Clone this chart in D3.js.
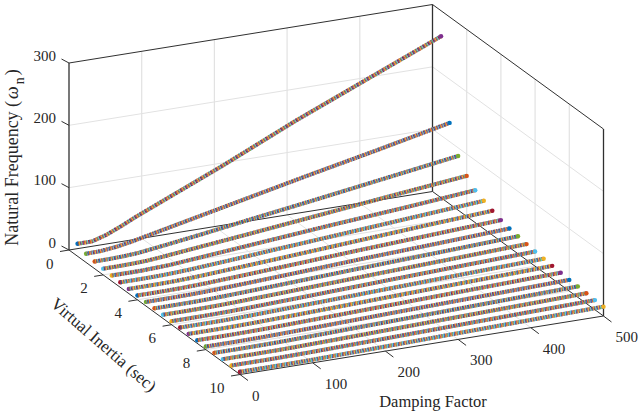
<!DOCTYPE html>
<html>
<head>
<meta charset="utf-8">
<script src="https://cdn.jsdelivr.net/npm/d3@7"></script>
<style>
body { margin: 0; background: #fff; }
text { font-family: "Liberation Serif", serif; fill: #262626; }
</style>
</head>
<body>
<script>
var w = 641, h = 415;

// values
var damping = [0, 20, 40, 60, 80, 100, 150, 200, 300, 400, 500];
var inertia = [0.5, 1, 1.5, 2, 2.5, 3, 3.5, 4, 4.5, 5, 5.5, 6, 6.5, 7, 7.5, 8, 8.5, 9, 9.5, 10];
var freq = [
  [20, 20, 27, 37, 48, 58, 83, 108, 161, 210, 259],
  [14, 14.5, 17, 21, 26, 31, 43.5, 56, 81, 105, 130],
  [11.5, 11.7, 12.5, 14, 17, 20, 28, 36.5, 53, 70, 87],
  [10, 10, 10.5, 11.5, 13.5, 16, 22, 28, 40.5, 53, 65],
  [9, 9, 9, 10, 11, 13, 18, 23, 33, 42, 52],
  [8.1, 8.1, 8.2, 8.7, 9.7, 11, 15, 19.5, 28, 36.5, 45],
  [7.5, 7.5, 7.6, 8, 8.8, 10, 13.5, 17, 24.5, 32, 39],
  [7, 7, 7.1, 7.5, 8.2, 9.2, 12.2, 15.4, 22, 28, 34],
  [6.6, 6.6, 6.7, 7, 7.6, 8.5, 11.2, 14, 20, 25, 30.5],
  [6.3, 6.3, 6.4, 6.6, 7.2, 8, 10.4, 13, 18.2, 23, 28],
  [6, 6, 6.1, 6.3, 6.8, 7.5, 9.7, 12, 16.8, 21, 25.5],
  [5.7, 5.7, 5.8, 6, 6.4, 7.1, 9.1, 11.2, 15.6, 19.6, 23.5],
  [5.5, 5.5, 5.5, 5.7, 6.1, 6.7, 8.6, 10.5, 14.5, 18.3, 22],
  [5.3, 5.3, 5.3, 5.5, 5.9, 6.4, 8.1, 9.9, 13.6, 17, 20.5],
  [5.1, 5.1, 5.1, 5.3, 5.6, 6.1, 7.7, 9.4, 12.8, 16.2, 19.5],
  [4.9, 4.9, 4.9, 5.1, 5.4, 5.9, 7.3, 8.9, 12, 15, 18],
  [4.8, 4.8, 4.8, 4.9, 5.2, 5.6, 7, 8.5, 11.5, 14.5, 17.5],
  [4.7, 4.7, 4.7, 4.8, 5, 5.4, 6.7, 8.1, 11, 13.8, 16.5],
  [4.5, 4.5, 4.5, 4.6, 4.9, 5.2, 6.4, 7.7, 10.4, 13, 15.5],
  [4.4, 4.4, 4.4, 4.5, 4.7, 5, 6.2, 7.4, 10, 12.5, 15]
];
var dampingTicks = [0, 100, 200, 300, 400, 500];
var inertiaTicks = [0, 2, 4, 6, 8, 10];
var freqTicks = [0, 100, 200, 300];
var colors = ['#0072BD', '#D95319', '#EDB120', '#7E2F8E', '#77AC30', '#4DBEEE', '#A2142F'];

// oblique projection, one scale for each screen direction of each axis
var dX = d3.scaleLinear().domain([0, 500]).range([0, 363.5]);
var dY = d3.scaleLinear().domain([0, 500]).range([0, -58.5]);
var iX = d3.scaleLinear().domain([0, 10]).range([0, 171]);
var iY = d3.scaleLinear().domain([0, 10]).range([0, 124.5]);
var zY = d3.scaleLinear().domain([0, 300]).range([0, -187]);
var origin = { x: 69, y: 250 };

function px(d, i) {
  return origin.x + dX(d) + iX(i);
}

function py(d, i, z) {
  return origin.y + dY(d) + iY(i) + zY(z);
}

var svg = d3.select('body').append('svg').attr('width', w).attr('height', h);

// soft edge, the stripes in the reference run together a little
svg.append('defs').append('filter')
  .attr('id', 'soft')
  .attr('x', '-5%').attr('y', '-20%').attr('width', '110%').attr('height', '140%')
  .append('feGaussianBlur')
  .attr('stdDeviation', 0.45);

function seg(g, a, b, color, width) {
  g.append('line')
    .attr('x1', px(a[0], a[1])).attr('y1', py(a[0], a[1], a[2]))
    .attr('x2', px(b[0], b[1])).attr('y2', py(b[0], b[1], b[2]))
    .style('stroke', color).style('stroke-width', width);
}

// grid
var grid = svg.append('g');
var gridColor = '#e2e2e2';
dampingTicks.slice(1, -1).forEach(function (d) {
  seg(grid, [d, 0, 0], [d, 10, 0], gridColor, 1);
  seg(grid, [d, 0, 0], [d, 0, 300], gridColor, 1.2);
});
inertiaTicks.slice(1, -1).forEach(function (i) {
  seg(grid, [0, i, 0], [500, i, 0], gridColor, 1);
  seg(grid, [500, i, 0], [500, i, 300], gridColor, 1.2);
});
freqTicks.slice(1, -1).forEach(function (z) {
  seg(grid, [0, 0, z], [500, 0, z], gridColor, 1);
  seg(grid, [500, 0, z], [500, 10, z], gridColor, 1);
});

// box, back planes only
var box = svg.append('g');
var axisColor = '#303030';
seg(box, [0, 0, 0], [500, 0, 0], axisColor, 1);
seg(box, [500, 0, 0], [500, 10, 0], axisColor, 1);
seg(box, [0, 0, 300], [500, 0, 300], axisColor, 1);
seg(box, [500, 0, 300], [500, 10, 300], axisColor, 1);
seg(box, [0, 0, 0], [0, 0, 300], axisColor, 1.3);
seg(box, [500, 0, 0], [500, 0, 300], axisColor, 1.3);
seg(box, [500, 10, 0], [500, 10, 300], axisColor, 1.3);
seg(box, [0, 0, 0], [0, 10, 0], axisColor, 1);
seg(box, [0, 10, 0], [500, 10, 0], axisColor, 1);

// ticks and labels
var labels = svg.append('g').style('font-size', '15px');

dampingTicks.forEach(function (d) {
  var x = px(d, 10), y = py(d, 10, 0);
  box.append('line').attr('x1', x).attr('y1', y).attr('x2', x + 8).attr('y2', y + 6)
    .style('stroke', axisColor).style('stroke-width', 1);
  labels.append('text').attr('x', x + 12).attr('y', y + 26).text(d);
});

inertiaTicks.forEach(function (i) {
  var x = px(0, i), y = py(0, i, 0);
  box.append('line').attr('x1', x).attr('y1', y).attr('x2', x - 9).attr('y2', y + 1.5)
    .style('stroke', axisColor).style('stroke-width', 1);
  labels.append('text').attr('x', x - 15.5).attr('y', y + 18.5)
    .attr('text-anchor', 'end').text(i);
});

freqTicks.forEach(function (z) {
  var x = px(0, 0), y = py(0, 0, z);
  box.append('line').attr('x1', x).attr('y1', y).attr('x2', x - 7.5).attr('y2', y - 4)
    .style('stroke', axisColor).style('stroke-width', 1);
  labels.append('text').attr('x', x - 13).attr('y', y - 2.5)
    .attr('text-anchor', 'end').text(z);
});

// axis titles
svg.append('text').attr('x', 433).attr('y', 407)
  .attr('text-anchor', 'middle').style('font-size', '16.5px').text('Damping Factor');

svg.append('text').attr('transform', 'translate(100,349) rotate(41)')
  .attr('text-anchor', 'middle').style('font-size', '17px').text('Virtual Inertia (sec)');

var zTitle = svg.append('text').attr('transform', 'translate(18,157.5) rotate(-90)')
  .attr('text-anchor', 'middle').style('font-size', '18px');
zTitle.append('tspan').text('Natural Frequency (');
zTitle.append('tspan').attr('dx', 2).style('font-style', 'italic').text('ω');
zTitle.append('tspan').attr('dx', 2).attr('dy', 6).style('font-size', '14px').text('n');
zTitle.append('tspan').attr('dx', 2).attr('dy', -6).text(')');

// series: marker stripes cycle through the 7 colours, one colour per damping unit
var series = svg.selectAll('g.series')
  .data(freq)
  .enter()
  .append('g')
  .attr('class', 'series')
  .attr('filter', 'url(#soft)');

series.each(function (values, s) {
  var g = d3.select(this);
  var I = inertia[s];
  var line = d3.line()
    .x(function (z, k) { return px(damping[k], I); })
    .y(function (z, k) { return py(damping[k], I, z); });
  var first = (4 * s) % 7;

  g.append('circle')
    .attr('cx', px(damping[0], I)).attr('cy', py(damping[0], I, values[0]))
    .attr('r', 2.2).style('fill', colors[first]);

  d3.range(7).forEach(function (k) {
    g.append('path')
      .attr('d', line(values))
      .attr('pathLength', 500)
      .style('fill', 'none')
      .style('stroke', colors[(first + k) % 7])
      .style('stroke-width', 4)
      .style('stroke-dasharray', '1.25 5.75')
      .style('stroke-dashoffset', -k);
  });

  g.append('circle')
    .attr('cx', px(500, I)).attr('cy', py(500, I, values[values.length - 1]))
    .attr('r', 2.2).style('fill', colors[(first + 500) % 7]);
});
</script>
</body>
</html>
